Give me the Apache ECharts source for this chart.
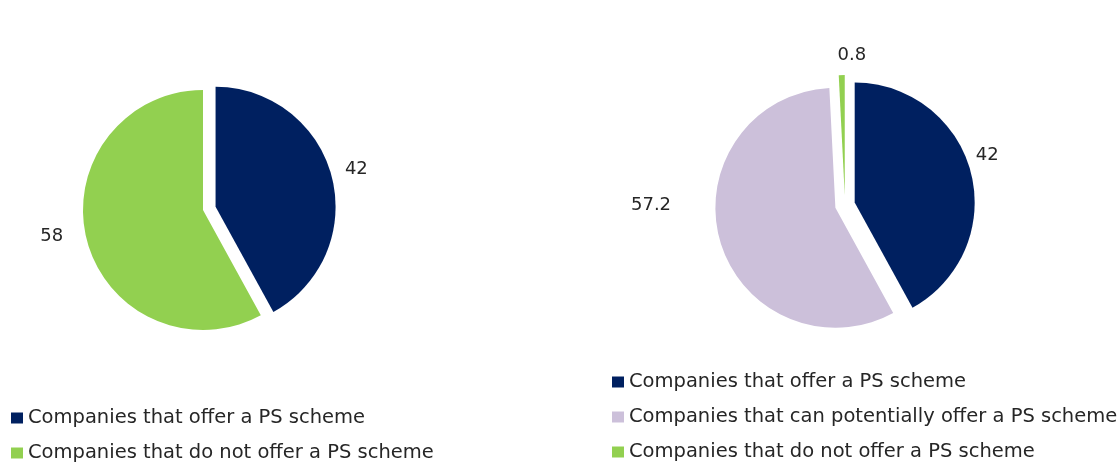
<!DOCTYPE html>
<html>
<head>
<meta charset="utf-8">
<script src="https://cdn.jsdelivr.net/npm/echarts@6/dist/echarts.min.js"></script>
<style>
html, body { margin: 0; padding: 0; background: #fff; }
#chart { width: 1119px; height: 463px; }
</style>
</head>
<body>
<div id="chart"></div>
<script>
var leftNames = ['Companies that offer a PS scheme', 'Companies that do not offer a PS scheme'];
var leftValues = [42, 58];
var rightNames = ['Companies that offer a PS scheme', 'Companies that can potentially offer a PS scheme', 'Companies that do not offer a PS scheme'];
var rightValues = [42, 57.2, 0.8];
var colors = {
  'Companies that offer a PS scheme': '#002060',
  'Companies that can potentially offer a PS scheme': '#CCC0DA',
  'Companies that do not offer a PS scheme': '#92D050'
};

// label placement tweaks (labelLine hidden, only used to move the labels)
var leftLabelPos = [[30, -21], [-16, 34]];
var rightLabelPos = [[71, -69], [-128, 167], [19.5, -30]];
var leftSelected = [true, false];
var rightSelected = [true, true, true];

function buildData(names, values, pos, sel) {
  return names.map(function (n, i) {
    return {
      name: n,
      value: values[i],
      selected: sel[i],
      itemStyle: { color: colors[n] },
      labelLine: { show: false, length: pos[i][0], length2: pos[i][1] }
    };
  });
}

var labelStyle = {
  show: true,
  position: 'outside',
  formatter: '{c}',
  fontFamily: 'DejaVu Sans',
  fontSize: 18,
  color: '#262626'
};

var legendText = { fontFamily: 'DejaVu Sans', fontSize: 19.5, color: '#262626', lineHeight: 20 };

function legendBox(names, left, top) {
  return {
    data: names,
    orient: 'vertical',
    left: left,
    top: top,
    height: 120,
    padding: 0,
    icon: 'rect',
    itemWidth: 12,
    itemHeight: 11,
    itemGap: 15,
    selectedMode: false,
    textStyle: legendText
  };
}

var chart = echarts.init(document.getElementById('chart'));
chart.setOption({
  animation: false,
  legend: [legendBox(leftNames, 11, 408), legendBox(rightNames, 612, 372)],
  series: [{
    type: 'pie',
    center: [203, 210],
    radius: 120,
    startAngle: 90,
    clockwise: true,
    selectedMode: 'multiple',
    selectedOffset: 13,
    avoidLabelOverlap: false,
    label: labelStyle,
    emphasis: { disabled: true },
    data: buildData(leftNames, leftValues, leftLabelPos, leftSelected)
  }, {
    type: 'pie',
    center: [845, 205],
    radius: 120,
    startAngle: 90,
    clockwise: true,
    selectedMode: 'multiple',
    selectedOffset: 10,
    avoidLabelOverlap: false,
    label: labelStyle,
    emphasis: { disabled: true },
    data: buildData(rightNames, rightValues, rightLabelPos, rightSelected)
  }]
});
</script>
</body>
</html>
